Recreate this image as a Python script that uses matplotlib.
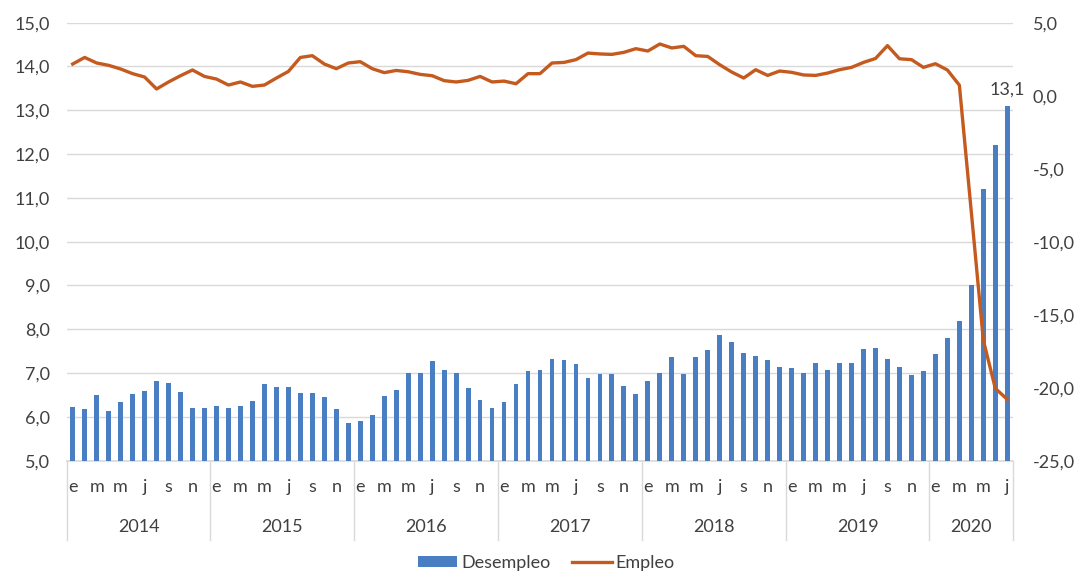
import matplotlib
matplotlib.use("Agg")
import matplotlib.pyplot as plt
from matplotlib.ticker import FixedLocator, FuncFormatter
from matplotlib.patches import Patch
from matplotlib.lines import Line2D
import matplotlib.transforms as mtransforms

# ---------------- data ----------------
years = ["2014", "2015", "2016", "2017", "2018", "2019", "2020"]
months_per_year = [12, 12, 12, 12, 12, 12, 7]
month_letters = ["e", "f", "m", "a", "m", "j", "j", "a", "s", "o", "n", "d"]

desempleo = [
    6.23, 6.18, 6.49, 6.14, 6.34, 6.53, 6.59, 6.83, 6.77, 6.56, 6.21, 6.21,
    6.24, 6.21, 6.24, 6.37, 6.74, 6.68, 6.68, 6.55, 6.55, 6.46, 6.18, 5.87,
    5.91, 6.04, 6.48, 6.61, 7.01, 7.01, 7.27, 7.08, 7.01, 6.67, 6.38, 6.20,
    6.35, 6.76, 7.05, 7.08, 7.33, 7.30, 7.21, 6.88, 6.99, 6.99, 6.70, 6.52,
    6.82, 7.01, 7.36, 6.98, 7.36, 7.52, 7.87, 7.71, 7.46, 7.39, 7.30, 7.14,
    7.11, 7.01, 7.23, 7.08, 7.23, 7.23, 7.55, 7.58, 7.33, 7.14, 6.95, 7.05,
    7.43, 7.80, 8.20, 9.00, 11.20, 12.20, 13.10,
]

empleo = [
    2.17, 2.62, 2.24, 2.08, 1.83, 1.51, 1.28, 0.46, 0.94, 1.37, 1.76, 1.32,
    1.14, 0.73, 0.94, 0.64, 0.73, 1.21, 1.66, 2.62, 2.74, 2.17, 1.85, 2.24,
    2.33, 1.85, 1.58, 1.73, 1.64, 1.46, 1.37, 1.03, 0.94, 1.05, 1.32, 0.94,
    1.00, 0.82, 1.51, 1.51, 2.24, 2.28, 2.47, 2.92, 2.86, 2.83, 2.97, 3.22,
    3.06, 3.54, 3.27, 3.38, 2.74, 2.69, 2.12, 1.62, 1.21, 1.78, 1.39, 1.69,
    1.60, 1.42, 1.39, 1.55, 1.78, 1.94, 2.28, 2.55, 3.43, 2.53, 2.47, 1.94,
    2.19, 1.76, 0.72, -8.00, -16.75, -20.05, -20.80,
]

left_ticks = [5, 6, 7, 8, 9, 10, 11, 12, 13, 14, 15]
right_ticks = [-25, -20, -15, -10, -5, 0, 5]
last_label = "13,1"

# ---------------- style ----------------
FONT = "Lato"
TXT = "#404040"
BAR_C = "#4A7EC2"
LINE_C = "#C55A1E"
GRID_C = "#D9D9D9"
FS = 13

plt.rcParams["font.family"] = [FONT, "DejaVu Sans"]

fig = plt.figure(figsize=(10.81, 5.73), dpi=100)
ax = fig.add_axes([66.7 / 1081, 1 - 460.7 / 573, (1013.3 - 66.7) / 1081, (460.7 - 22.7) / 573])
ax2 = ax.twinx()

n = len(desempleo)
x = list(range(n))

ax.bar(x, desempleo, width=0.4, color=BAR_C, zorder=2, label="Desempleo")
ax.set_ylim(5, 15)
ax.set_xlim(-0.5, n - 0.5)
ax.yaxis.set_major_locator(FixedLocator(left_ticks))
ax.yaxis.set_major_formatter(FuncFormatter(lambda v, p: f"{v:.1f}".replace(".", ",")))
ax.grid(axis="y", color=GRID_C, linewidth=1.0, zorder=0)
ax.set_axisbelow(True)

ax2.plot(x, empleo, color=LINE_C, linewidth=2.4, zorder=3, solid_joinstyle="round")
ax2.set_ylim(-25, 5)
ax2.yaxis.set_major_locator(FixedLocator(right_ticks))
ax2.yaxis.set_major_formatter(FuncFormatter(lambda v, p: f"{v:.1f}".replace(".", ",").replace("\u2212", "-")))

for a in (ax, ax2):
    for s in ("top", "left", "right"):
        a.spines[s].set_visible(False)
    a.spines["bottom"].set_visible(False)
    a.tick_params(axis="y", length=0, labelsize=FS, labelcolor=TXT)

ax.tick_params(axis="y", pad=12)
ax2.tick_params(axis="y", pad=14)
ax.set_xticks([])
ax2.set_xticks([])

# bottom axis line
ax.axhline(5, color=GRID_C, linewidth=1.2, zorder=1, clip_on=False)

# category axis: month letters & year labels
trans = mtransforms.blended_transform_factory(ax.transData, ax.transAxes)
start = 0
for yr, cnt in zip(years, months_per_year):
    for m in range(0, cnt, 2):
        ax.text(start + m, -0.06, month_letters[m], transform=trans,
                ha="center", va="center", fontsize=FS, color=TXT)
    ax.text(start + (cnt - 1) / 2, -0.152, yr, transform=trans,
            ha="center", va="center", fontsize=FS, color=TXT)
    ax.plot([start - 0.5, start - 0.5], [0, -0.18], transform=trans,
            color=GRID_C, linewidth=1.0, clip_on=False)
    start += cnt
ax.plot([start - 0.5, start - 0.5], [0, -0.18], transform=trans,
        color=GRID_C, linewidth=1.0, clip_on=False)

# label on last bar
ax.annotate(last_label, xy=(n - 1, desempleo[-1]), xytext=(0, 6),
            textcoords="offset points", ha="center", va="bottom",
            fontsize=FS, color=TXT)

# legend
handles = [Patch(facecolor=BAR_C, edgecolor="none"),
           Line2D([0], [0], color=LINE_C, linewidth=2.4)]
fig.legend(handles, ["Desempleo", "Empleo"], loc="center",
           bbox_to_anchor=(0.505, 1 - 563 / 573), ncol=2, frameon=False,
           fontsize=FS, labelcolor=TXT, handlelength=2.2, handleheight=0.6,
           handletextpad=0.2, columnspacing=1.2)

fig.savefig("out.png", dpi=100)
